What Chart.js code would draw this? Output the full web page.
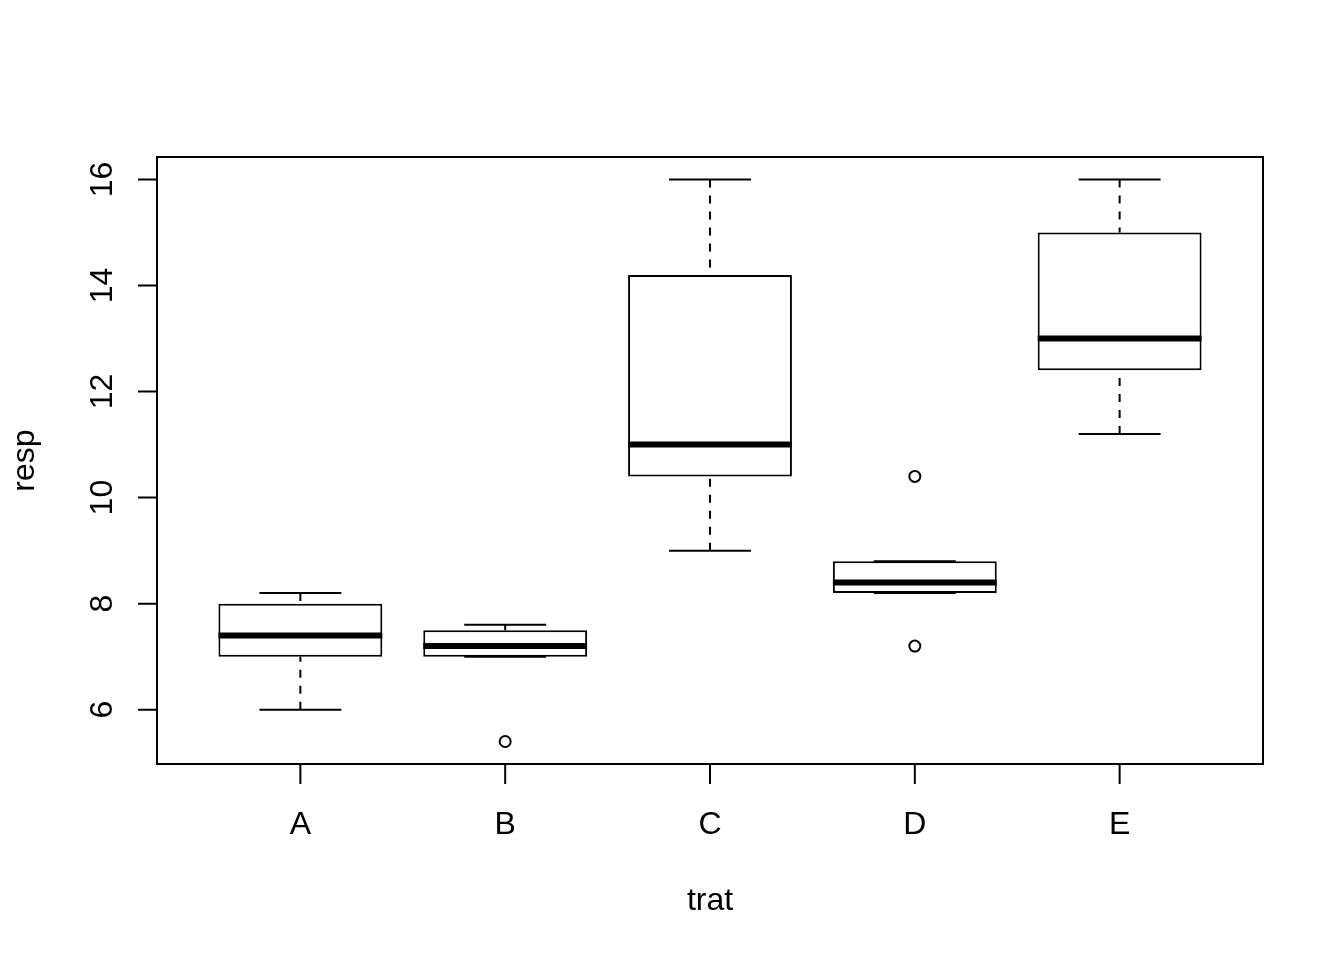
<!DOCTYPE html>
<html><head><meta charset="utf-8">
<script src="https://cdn.jsdelivr.net/npm/chart.js@4"></script>
<style>html,body{margin:0;padding:0;background:#fff}#wrap{width:1344px;height:960px}</style>
</head><body><div id="wrap"><canvas id="c" width="1344" height="960"></canvas></div>
<script>
const categories = ['A', 'B', 'C', 'D', 'E'];
const whiskerLow = [6, 7.0, 9, 8.2, 11.2];
const q1 = [7, 7.0, 10.4, 8.2, 12.4];
const medians = [7.4, 7.2, 11, 8.4, 13];
const q3 = [8, 7.5, 14.2, 8.8, 15];
const whiskerHigh = [8.2, 7.6, 16, 8.8, 16];
const outlierCat = ['B', 'D', 'D'];
const outlierVals = [5.4, 10.4, 7.2];
const yTicks = [6, 8, 10, 12, 14, 16];
const xTitle = 'trat';
const yTitle = 'resp';

const FONT = '32px "Liberation Sans", Arial, sans-serif';
const positions = categories.map((c, i) => i + 1);
const allVals = [...whiskerLow, ...whiskerHigh, ...outlierVals];
const dMin = Math.min(...allVals), dMax = Math.max(...allVals);
const ext = (dMax - dMin) * 0.04;

const boxPlugin = {
  id: 'rbox',
  beforeDatasetsDraw(chart) {
    const ctx = chart.ctx, xs = chart.scales.x, ys = chart.scales.y;
    ctx.save();
    ctx.strokeStyle = '#000';
    ctx.lineWidth = 2;
    positions.forEach((p, i) => {
      const x = xs.getPixelForValue(p);
      ctx.setLineDash([8, 8]);
      ctx.lineCap = 'butt';
      ctx.beginPath();
      ctx.moveTo(x, ys.getPixelForValue(whiskerLow[i]));
      ctx.lineTo(x, ys.getPixelForValue(q1[i]));
      ctx.moveTo(x, ys.getPixelForValue(whiskerHigh[i]));
      ctx.lineTo(x, ys.getPixelForValue(q3[i]));
      ctx.stroke();
      ctx.setLineDash([]);
      const xl = xs.getPixelForValue(p - 0.2), xr = xs.getPixelForValue(p + 0.2);
      ctx.beginPath();
      [whiskerLow[i], whiskerHigh[i]].forEach(v => {
        const y = ys.getPixelForValue(v);
        ctx.moveTo(xl, y); ctx.lineTo(xr, y);
      });
      ctx.stroke();
    });
    ctx.restore();
  },
  afterDatasetsDraw(chart) {
    const ctx = chart.ctx, xs = chart.scales.x, ys = chart.scales.y;
    ctx.save();
    ctx.strokeStyle = '#000';
    ctx.lineWidth = 6;
    ctx.lineCap = 'butt';
    positions.forEach((p, i) => {
      const xl = xs.getPixelForValue(p - 0.4), xr = xs.getPixelForValue(p + 0.4);
      const y = ys.getPixelForValue(medians[i]);
      ctx.beginPath();
      ctx.moveTo(xl, y); ctx.lineTo(xr, y);
      ctx.stroke();
    });
    ctx.restore();
  },
  afterDraw(chart) {
    const ctx = chart.ctx, xs = chart.scales.x, ys = chart.scales.y, a = chart.chartArea;
    ctx.save();
    ctx.strokeStyle = '#000';
    ctx.lineWidth = 2;
    ctx.setLineDash([]);
    ctx.strokeRect(a.left, a.top, a.right - a.left, a.bottom - a.top);
    ctx.beginPath();
    yTicks.forEach(v => {
      const y = ys.getPixelForValue(v);
      ctx.moveTo(a.left, y); ctx.lineTo(a.left - 19, y);
    });
    positions.forEach(p => {
      const x = xs.getPixelForValue(p);
      ctx.moveTo(x, a.bottom); ctx.lineTo(x, a.bottom + 20);
    });
    ctx.stroke();
    ctx.fillStyle = '#000';
    ctx.font = FONT;
    ctx.textAlign = 'center';
    ctx.textBaseline = 'alphabetic';
    positions.forEach((p, i) => {
      ctx.fillText(categories[i], xs.getPixelForValue(p), a.bottom + 70);
    });
    yTicks.forEach(v => {
      const y = ys.getPixelForValue(v);
      ctx.save();
      ctx.translate(a.left - 45, y);
      ctx.rotate(-Math.PI / 2);
      ctx.fillText(String(v), 0, 0);
      ctx.restore();
    });
    ctx.fillText(xTitle, (a.left + a.right) / 2, 910);
    ctx.save();
    ctx.translate(34, (a.top + a.bottom) / 2);
    ctx.rotate(-Math.PI / 2);
    ctx.fillText(yTitle, 0, 0);
    ctx.restore();
    ctx.restore();
  }
};

new Chart(document.getElementById('c'), {
  data: {
    datasets: [
      {
        type: 'bar',
        data: positions.map((x, i) => ({ x: x, y: [q1[i], q3[i]] })),
        backgroundColor: '#fff', borderColor: '#000', borderWidth: 2, borderSkipped: false,
        barPercentage: 0.8, categoryPercentage: 1, order: 2
      },
      {
        type: 'scatter',
        data: outlierCat.map((c, i) => ({ x: categories.indexOf(c) + 1, y: outlierVals[i] })),
        pointStyle: 'circle', pointRadius: 5.5, borderColor: '#000', borderWidth: 2,
        backgroundColor: 'rgba(0,0,0,0)', order: 1
      }
    ]
  },
  options: {
    responsive: false, animation: false, events: [],
    layout: { padding: { left: 0, top: 157, right: 81, bottom: 0 } },
    plugins: { legend: { display: false }, tooltip: { enabled: false } },
    scales: {
      x: { type: 'linear', min: 0.3, max: 5.7, offset: false, grid: { display: false }, border: { display: false },
           ticks: { display: false, stepSize: 1, includeBounds: false }, afterFit(s) { s.height = 196; } },
      y: { type: 'linear', min: dMin - ext, max: dMax + ext, grid: { display: false }, border: { display: false },
           ticks: { display: false }, afterFit(s) { s.width = 157; } }
    }
  },
  plugins: [boxPlugin]
});
</script>
</body></html>
